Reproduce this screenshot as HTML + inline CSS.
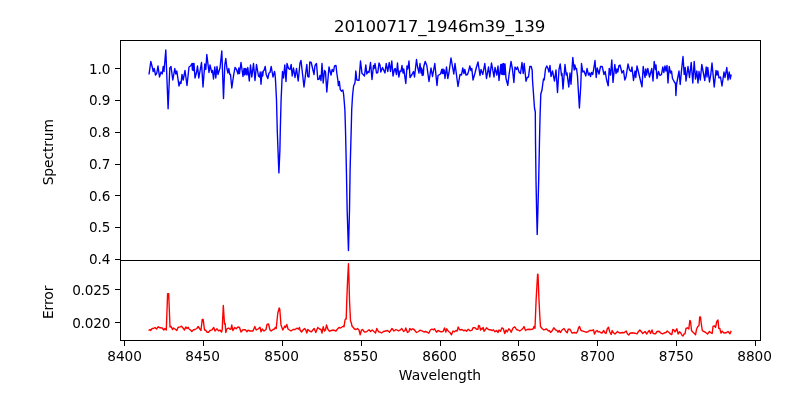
<!DOCTYPE html>
<html><head><meta charset="utf-8"><title>20100717_1946m39_139</title>
<style>
html,body{margin:0;padding:0;background:#fff;}
body{width:800px;height:400px;overflow:hidden;}
svg{display:block;}
text{font-family:"DejaVu Sans","Liberation Sans",sans-serif;fill:#000;}
.t{font-size:13.889px;}
.d{font-size:13.7px;letter-spacing:-0.05px;}
.y{font-size:13.6px;letter-spacing:-0.2px;}
.ti{font-size:16.667px;letter-spacing:-0.09px;}
.ax{stroke:#000;stroke-width:1.1;fill:none;shape-rendering:crispEdges;}
.tk{stroke:#000;stroke-width:1.1;fill:none;shape-rendering:crispEdges;}
</style></head><body>
<svg width="800" height="400" viewBox="0 0 800 400">
<rect x="0" y="0" width="800" height="400" fill="#ffffff"/>
<defs><clipPath id="c1"><rect x="120.5" y="40.5" width="640" height="220"/></clipPath><clipPath id="c2"><rect x="120.5" y="260.5" width="640" height="80"/></clipPath></defs>
<g clip-path="url(#c1)"><polyline points="149.00,74.50 150.80,61.50 152.50,68.00 153.20,71.50 154.20,68.50 155.50,75.00 156.80,73.00 158.00,66.00 159.50,77.00 161.00,72.00 162.20,74.00 163.20,66.50 164.00,71.50 165.80,50.00 168.10,108.70 169.80,68.00 171.00,66.50 172.80,80.00 174.80,68.50 175.80,74.00 176.80,71.00 179.00,86.00 180.00,82.00 181.00,83.50 182.00,74.50 183.20,80.00 185.00,70.50 187.00,85.50 189.00,67.00 190.50,66.00 192.00,63.50 192.40,70.00 192.90,63.50 193.40,70.50 194.00,63.50 195.00,78.00 196.50,72.50 197.50,66.00 198.80,78.00 201.50,62.50 203.00,87.00 204.80,64.00 205.80,69.50 206.80,54.50 209.00,72.50 210.00,65.00 211.80,72.50 212.50,70.50 213.50,79.00 214.80,67.00 215.80,78.00 217.00,66.50 218.00,74.50 220.00,68.00 221.80,51.00 223.50,98.50 224.80,65.00 225.80,58.50 227.00,69.00 228.00,73.00 228.80,68.50 229.80,74.50 230.50,74.50 231.80,88.00 233.50,76.00 235.00,67.50 236.50,69.50 238.00,74.00 238.80,68.00 239.50,73.50 241.00,62.50 243.00,76.50 244.00,68.50 244.70,75.00 245.30,68.50 246.00,74.00 246.60,69.00 247.00,75.00 247.80,67.50 249.30,81.00 250.50,65.00 251.80,77.00 253.50,63.50 255.00,80.50 256.50,64.50 258.50,76.00 259.50,77.00 260.20,72.00 261.00,84.30 262.00,72.00 262.70,76.00 263.30,71.00 264.00,70.50 265.20,66.50 266.20,74.50 267.80,78.50 269.00,73.00 270.00,72.50 271.20,66.50 273.00,77.00 274.50,71.50 275.00,74.00 275.50,80.00 276.50,100.00 277.25,130.00 278.00,150.00 278.90,172.90 279.90,150.00 280.30,130.00 281.10,100.00 282.00,80.00 282.50,71.50 283.50,78.00 284.80,65.00 286.00,81.50 287.00,63.50 288.50,68.50 290.00,69.50 291.20,64.50 292.20,76.00 293.50,68.00 295.00,77.50 296.50,68.50 298.20,81.00 300.00,63.00 301.00,60.50 304.00,87.00 306.80,64.50 307.80,76.50 309.00,77.00 309.80,62.00 311.20,62.50 314.00,74.50 315.00,65.50 316.50,63.50 317.80,79.50 319.20,79.00 320.00,75.50 321.00,80.50 322.00,63.50 323.20,83.00 324.50,70.50 325.50,72.00 326.80,92.00 329.00,67.00 331.00,75.00 332.20,69.50 333.50,71.50 334.50,66.00 336.00,65.50 336.80,73.00 337.85,80.00 338.40,85.60 339.35,81.50 340.25,89.40 341.40,91.25 342.90,90.10 343.60,94.25 344.10,100.00 344.90,110.00 345.50,130.00 346.40,170.00 347.15,210.00 348.45,250.50 349.50,210.00 350.10,170.00 351.20,130.00 351.70,110.00 352.30,100.00 352.60,95.00 353.60,86.00 354.90,83.00 355.25,80.00 355.80,71.00 356.80,80.00 359.00,80.40 360.50,61.00 362.00,73.50 363.20,74.50 364.50,76.00 365.80,65.00 366.80,74.00 368.00,71.50 369.00,72.50 370.50,62.50 372.00,79.50 373.50,65.50 374.20,68.50 375.00,63.50 376.50,73.00 377.80,72.50 379.00,63.00 380.00,65.00 380.80,72.00 382.50,67.50 385.00,73.00 386.20,63.50 387.80,71.50 389.20,62.50 390.50,71.50 391.80,61.00 393.00,76.00 394.50,69.00 395.20,68.50 396.50,74.50 397.50,63.00 398.80,77.00 400.00,71.00 401.00,71.50 402.00,65.50 403.00,73.00 403.80,69.00 405.80,83.50 407.00,66.00 407.80,69.00 409.00,61.00 410.00,77.50 412.00,74.50 413.50,71.50 414.50,77.00 416.50,59.50 417.50,66.50 419.00,73.00 420.00,63.50 421.00,73.00 421.60,68.00 422.20,75.50 422.80,70.00 423.30,75.00 423.80,66.50 425.20,61.50 426.80,65.50 429.00,81.50 431.00,68.00 432.50,76.50 434.80,63.50 437.00,85.50 438.00,75.50 440.50,74.00 441.80,69.50 442.40,73.50 443.00,69.00 443.60,73.50 444.20,70.00 445.00,78.50 446.50,67.00 447.80,78.50 449.00,72.50 451.00,58.00 453.80,74.00 455.00,63.50 458.00,86.50 460.00,74.50 461.50,75.00 462.80,68.00 464.00,73.50 464.80,69.50 466.00,75.00 467.50,74.50 468.50,71.50 469.80,66.00 471.00,70.50 471.80,68.50 473.00,80.00 475.00,73.00 476.50,67.00 478.00,62.00 480.00,75.50 481.00,69.50 482.80,74.50 484.80,63.50 486.50,78.50 488.50,67.00 489.80,77.00 491.50,63.00 494.00,77.00 495.00,67.50 496.80,75.00 498.00,66.00 499.00,80.50 500.80,64.50 501.30,74.00 501.80,64.50 502.30,74.50 502.80,64.00 503.20,63.50 503.60,74.50 504.00,64.00 504.50,74.50 505.00,64.00 506.00,78.50 507.80,85.30 509.00,75.00 511.00,61.50 512.50,69.50 513.90,82.50 515.00,67.00 516.50,69.50 517.50,67.00 519.00,72.00 520.50,73.50 522.00,62.50 523.20,73.50 524.20,63.50 526.00,81.30 527.20,77.50 528.50,77.00 529.80,66.50 531.20,66.50 532.20,70.50 532.50,80.00 534.50,108.00 535.30,112.00 535.50,140.00 536.00,180.00 536.60,210.00 537.20,234.50 537.90,210.00 538.70,180.00 539.50,140.00 540.10,115.00 540.80,94.00 542.00,90.00 543.00,82.00 543.50,79.00 544.20,80.00 545.50,69.00 546.80,66.00 547.80,68.00 549.00,72.00 550.00,65.50 551.00,76.50 552.50,71.00 554.50,81.00 556.00,70.00 557.50,92.50 559.00,69.50 560.20,64.00 561.50,75.50 562.00,73.50 563.00,89.00 565.00,64.50 566.20,75.00 567.00,73.00 568.80,87.00 570.00,73.00 571.00,84.30 572.80,57.50 574.20,70.00 574.80,65.00 575.80,69.00 576.50,68.50 577.50,76.00 578.00,85.00 579.40,108.00 580.80,85.00 581.50,63.50 582.80,72.00 584.00,71.00 585.80,76.00 587.00,68.50 588.50,75.00 589.50,73.00 590.50,76.50 591.50,72.50 592.80,74.50 594.00,67.00 595.00,60.50 596.20,77.50 597.20,68.00 599.00,74.00 600.50,66.50 602.20,66.50 604.00,74.50 605.20,71.50 606.50,79.50 608.20,85.80 609.20,68.50 610.50,75.00 611.80,60.00 613.00,82.40 614.80,64.50 616.00,73.50 617.00,69.00 617.80,72.00 619.00,65.50 620.00,65.00 622.00,73.00 623.50,70.50 624.80,80.00 626.00,77.00 628.00,64.00 629.50,70.00 631.00,71.50 632.00,67.00 633.50,80.50 635.00,71.00 635.80,77.50 637.00,66.00 639.50,76.50 642.00,86.80 643.20,66.50 645.00,77.50 645.80,69.00 646.50,75.00 647.80,68.50 649.50,77.00 651.80,68.50 653.00,81.00 654.20,61.50 655.50,69.50 656.00,65.00 657.00,78.50 658.50,71.50 660.00,75.50 661.50,74.50 662.80,67.00 663.80,72.50 665.00,66.00 666.00,71.00 667.00,65.50 668.00,83.00 669.20,66.50 670.50,73.00 671.50,71.00 672.50,78.50 674.40,82.00 675.50,83.50 675.90,95.50 676.60,84.00 678.00,76.50 679.00,71.00 680.20,84.50 681.50,70.50 683.00,56.50 684.20,74.50 685.20,67.50 686.00,81.00 688.00,66.50 689.50,77.50 691.20,62.50 692.80,83.00 694.20,61.50 695.50,79.00 696.80,71.00 698.00,83.00 699.00,71.50 700.30,80.00 701.80,64.50 704.80,80.50 706.20,67.00 707.00,77.00 707.80,67.50 709.50,82.00 710.80,74.50 712.00,63.00 714.20,87.00 716.00,70.50 717.00,75.00 717.80,71.00 719.00,78.00 720.50,77.00 722.00,86.00 724.00,72.00 725.00,77.50 726.80,67.50 728.00,80.00 729.20,72.00 730.20,79.00 731.20,74.50" fill="none" stroke="#0000ff" stroke-width="1.39" stroke-linejoin="round" stroke-linecap="butt"/></g>
<g clip-path="url(#c2)"><polyline points="148.50,330.50 150.00,329.50 150.80,330.50 152.00,328.50 153.50,328.50 155.00,327.50 156.50,329.00 158.30,326.80 160.00,327.80 162.20,328.00 163.80,330.00 165.00,328.50 166.30,330.00 167.60,293.80 168.70,293.80 170.00,327.00 171.20,326.50 172.50,329.50 173.50,328.00 175.00,329.00 176.80,330.50 178.00,327.50 180.00,326.80 181.50,326.20 183.00,328.00 184.50,330.00 185.80,327.00 187.00,328.50 188.20,327.20 189.00,329.00 190.50,330.00 191.80,331.50 193.50,329.80 195.00,329.50 196.80,328.50 198.20,326.50 199.50,328.50 201.00,330.50 202.20,319.50 203.20,319.50 204.50,330.00 205.50,330.00 207.00,332.20 208.50,332.20 210.00,330.50 212.00,329.80 213.80,327.50 215.00,331.00 217.00,328.80 218.50,330.80 220.00,330.00 221.50,332.00 222.20,330.00 223.30,305.50 224.50,324.00 225.20,323.50 225.80,332.50 226.80,329.00 228.50,328.00 230.00,329.20 231.00,329.00 231.80,325.00 232.80,330.50 234.80,327.50 236.20,328.80 238.00,327.00 239.50,327.50 241.00,332.00 243.00,329.80 245.50,329.80 247.00,331.80 248.00,330.20 250.00,331.00 253.00,331.00 254.80,326.50 256.20,330.00 258.00,329.00 260.00,327.20 261.00,331.80 262.20,329.00 264.00,331.00 266.00,329.50 267.00,324.50 268.50,324.00 270.00,330.00 271.20,331.00 273.00,329.50 274.50,329.00 275.20,327.50 276.20,328.50 277.80,313.00 279.20,308.00 279.80,309.50 281.00,325.00 282.80,330.00 284.80,326.00 285.50,327.50 286.80,324.50 288.00,329.00 291.00,331.00 293.00,329.50 295.00,329.50 296.80,328.20 298.50,329.00 299.50,327.50 300.00,330.00 301.50,332.00 303.00,330.00 304.50,328.50 305.80,330.00 306.80,333.00 307.80,329.50 309.50,331.00 311.50,331.80 312.80,330.00 314.20,328.50 315.80,332.50 317.80,327.50 319.50,329.00 321.00,329.50 322.00,333.00 323.20,326.80 324.50,331.00 325.50,330.00 326.50,325.00 328.00,329.50 329.50,331.20 331.50,330.50 333.00,330.00 336.00,331.00 337.50,329.00 339.00,327.50 340.50,328.00 342.00,327.00 343.50,326.00 344.00,327.00 345.00,320.00 345.80,318.50 346.20,319.00 346.80,300.00 347.60,280.00 348.45,263.70 349.00,280.00 349.50,300.00 350.50,321.00 351.20,322.50 352.00,326.00 354.50,329.00 356.00,329.50 357.50,328.50 359.00,330.00 360.20,334.80 361.50,330.00 362.50,329.50 364.50,332.00 366.50,331.80 369.00,329.80 370.50,331.50 372.20,330.00 374.50,332.00 375.50,333.00 376.80,328.50 378.50,331.80 380.00,332.00 381.50,333.00 383.50,331.50 385.50,331.00 387.50,330.50 389.50,332.20 392.00,328.50 394.00,331.00 396.00,329.50 398.50,330.80 400.50,329.80 401.80,328.50 403.50,331.50 405.00,330.50 405.80,328.00 407.50,332.50 409.00,331.50 409.80,328.50 411.20,330.00 412.50,328.80 414.00,329.50 416.50,332.50 418.50,331.50 420.00,330.20 422.00,330.80 424.00,332.00 425.50,331.50 427.00,332.20 428.80,333.20 430.50,329.80 432.00,329.00 433.50,329.80 434.50,328.80 436.50,332.20 438.00,330.50 441.00,331.80 443.00,331.50 444.50,328.00 445.80,332.00 446.80,328.80 448.50,331.50 450.00,332.50 451.50,334.80 453.00,331.00 454.50,331.80 456.00,330.50 457.20,331.00 458.20,327.00 459.50,329.50 460.00,330.00 462.00,329.50 464.00,330.80 465.00,330.00 466.50,331.20 468.20,329.20 470.00,330.80 472.00,330.20 473.00,327.80 475.00,327.80 476.50,329.20 478.00,329.20 478.50,325.50 479.50,325.80 480.50,330.00 481.50,328.50 482.20,329.00 483.20,327.50 484.00,331.20 485.50,329.50 486.50,327.80 488.50,329.50 491.00,330.00 492.50,330.50 493.50,329.80 495.00,331.80 496.50,330.50 498.00,332.50 499.00,330.00 500.50,331.20 502.00,327.80 503.20,328.50 504.80,333.50 506.00,330.00 507.20,332.00 508.80,328.80 510.00,330.00 511.20,332.20 513.00,328.00 514.80,326.80 516.50,329.50 518.00,330.00 519.80,331.00 521.50,329.80 522.80,328.50 524.00,326.50 525.50,330.50 527.00,329.50 529.00,329.20 531.00,329.50 533.00,329.00 534.00,326.50 535.00,328.50 536.10,300.00 537.60,274.20 538.00,274.40 539.00,300.00 539.90,318.00 540.50,326.50 542.00,328.50 543.50,329.80 545.00,329.50 546.50,329.00 548.50,331.00 549.50,330.50 550.50,332.50 552.00,331.00 553.80,327.80 555.50,329.80 557.00,330.50 558.00,332.20 559.20,330.50 560.50,332.50 562.00,330.00 564.00,328.50 565.50,331.00 567.20,332.80 568.20,329.20 569.80,329.20 572.00,333.00 574.50,332.50 576.20,333.20 577.50,331.50 578.50,328.00 579.50,326.50 581.00,330.50 583.00,331.20 586.00,332.20 588.00,331.80 589.50,330.50 592.00,330.50 593.50,329.80 594.50,334.00 596.00,331.20 597.00,330.50 598.00,331.80 599.20,331.50 600.50,332.50 602.00,333.00 603.80,330.50 605.00,333.00 606.00,333.50 607.20,329.00 608.50,327.20 609.80,332.00 611.20,334.50 612.20,330.50 613.50,332.80 615.00,334.00 616.50,332.50 617.50,331.50 619.00,332.80 620.00,333.00 622.00,332.50 624.00,332.80 625.20,331.80 626.20,331.00 627.50,334.00 628.80,335.00 630.00,333.20 632.00,332.80 635.00,333.20 637.00,333.80 638.50,331.50 639.80,330.00 641.20,331.50 642.80,333.50 645.00,331.50 646.80,334.00 648.00,332.00 649.20,330.50 650.50,333.50 652.00,330.00 653.20,333.50 655.50,333.80 657.00,331.50 659.00,331.20 660.50,332.80 662.50,333.80 664.50,332.80 666.00,332.50 667.20,331.00 668.80,332.20 670.50,334.00 671.80,334.50 672.80,329.50 673.80,329.80 675.00,331.80 676.80,328.80 678.20,334.00 679.50,331.80 680.50,332.50 681.80,335.00 683.00,336.00 684.00,334.00 685.00,333.80 686.00,328.50 687.50,327.80 688.80,329.00 689.80,320.50 690.50,321.00 691.50,330.50 693.00,332.20 694.50,333.50 695.50,334.80 696.50,329.50 697.50,327.00 699.00,325.50 699.70,317.00 700.50,317.00 701.20,323.00 702.20,330.00 703.00,331.20 705.00,332.00 707.50,334.00 709.50,331.50 711.00,332.80 712.20,333.50 713.00,326.50 714.50,325.80 715.50,327.50 716.80,321.50 718.00,320.00 718.80,328.50 719.80,328.50 721.00,333.00 722.20,331.20 724.00,333.00 726.00,332.80 728.00,331.50 730.00,333.80 731.20,330.80" fill="none" stroke="#ff0000" stroke-width="1.39" stroke-linejoin="round" stroke-linecap="butt"/></g>
<rect class="ax" x="120.5" y="40.5" width="640" height="220"/>
<rect class="ax" x="120.5" y="260.5" width="640" height="80"/>
<line class="tk" x1="124.5" y1="340.5" x2="124.5" y2="346"/><text class="t d" x="107.23" y="361">8400</text>
<line class="tk" x1="203.5" y1="340.5" x2="203.5" y2="346"/><text class="t d" x="185.23" y="361">8450</text>
<line class="tk" x1="282.5" y1="340.5" x2="282.5" y2="346"/><text class="t d" x="264.23" y="361">8500</text>
<line class="tk" x1="361.5" y1="340.5" x2="361.5" y2="346"/><text class="t d" x="343.23" y="361">8550</text>
<line class="tk" x1="440.5" y1="340.5" x2="440.5" y2="346"/><text class="t d" x="422.23" y="361">8600</text>
<line class="tk" x1="518.5" y1="340.5" x2="518.5" y2="346"/><text class="t d" x="501.23" y="361">8650</text>
<line class="tk" x1="597.5" y1="340.5" x2="597.5" y2="346"/><text class="t d" x="580.23" y="361">8700</text>
<line class="tk" x1="676.5" y1="340.5" x2="676.5" y2="346"/><text class="t d" x="658.8" y="361">8750</text>
<line class="tk" x1="755.5" y1="340.5" x2="755.5" y2="346"/><text class="t d" x="737.23" y="361">8800</text>
<line class="tk" x1="115" y1="68.5" x2="120.5" y2="68.5"/><text class="t y" x="110.1" y="73.70" text-anchor="end">1.0</text>
<line class="tk" x1="115" y1="100.5" x2="120.5" y2="100.5"/><text class="t y" x="110.1" y="105.45" text-anchor="end">0.9</text>
<line class="tk" x1="115" y1="132.5" x2="120.5" y2="132.5"/><text class="t y" x="110.1" y="137.20" text-anchor="end">0.8</text>
<line class="tk" x1="115" y1="164.5" x2="120.5" y2="164.5"/><text class="t y" x="110.1" y="168.95" text-anchor="end">0.7</text>
<line class="tk" x1="115" y1="195.5" x2="120.5" y2="195.5"/><text class="t y" x="110.1" y="200.70" text-anchor="end">0.6</text>
<line class="tk" x1="115" y1="227.5" x2="120.5" y2="227.5"/><text class="t y" x="110.1" y="232.45" text-anchor="end">0.5</text>
<line class="tk" x1="115" y1="259.5" x2="120.5" y2="259.5"/><text class="t y" x="110.1" y="264.20" text-anchor="end">0.4</text>
<line class="tk" x1="115" y1="289.5" x2="120.5" y2="289.5"/><text class="t y" x="110.1" y="294.80" text-anchor="end">0.025</text>
<line class="tk" x1="115" y1="322.5" x2="120.5" y2="322.5"/><text class="t y" x="110.1" y="327.80" text-anchor="end">0.020</text>
<text class="ti" x="439.7" y="31.7" text-anchor="middle">20100717_1946m39_139</text>
<text class="t" x="440" y="379.8" text-anchor="middle">Wavelength</text>
<text class="t" transform="translate(53,152.2) rotate(-90)" text-anchor="middle" style="letter-spacing:-0.12px">Spectrum</text>
<text class="t" transform="translate(53,302.4) rotate(-90)" text-anchor="middle" style="letter-spacing:-0.1px">Error</text>
</svg>
</body></html>
